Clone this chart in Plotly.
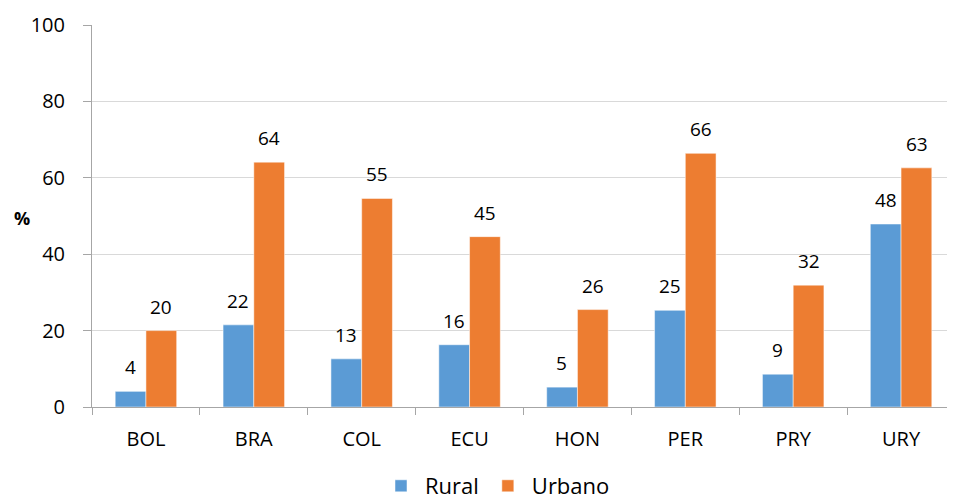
import plotly.graph_objects as go

categories = ["BOL", "BRA", "COL", "ECU", "HON", "PER", "PRY", "URY"]
rural = [4.1, 21.5, 12.6, 16.3, 5.2, 25.3, 8.6, 47.9]
urbano = [20.0, 64.1, 54.6, 44.6, 25.5, 66.4, 31.9, 62.6]
y_ticks = [0, 20, 40, 60, 80, 100]

BLUE = "#5B9BD5"
ORANGE = "#ED7D31"
FONT = "Open Sans"

# page body has an 8px default margin; figure is sized to fill the rest of the window
W, H = 947, 492
L, T, B = 84, 17, 93
PW, PH = W - L, H - T - B

fig = go.Figure()
fig.add_trace(go.Bar(name="Rural", x=categories, y=rural, marker=dict(color=BLUE, line=dict(color="white", width=0.5))))
fig.add_trace(go.Bar(name="Urbano", x=categories, y=urbano, marker=dict(color=ORANGE, line=dict(color="white", width=0.5))))

annotations = []
for c, v in zip(categories, rural):
    annotations.append(dict(x=c, y=v, xref="x", yref="y", text=f"{v:.0f}", showarrow=False,
                            xshift=-15.5, yshift=24, yanchor="middle",
                            font=dict(family=FONT, size=19, color="#000")))
for c, v in zip(categories, urbano):
    annotations.append(dict(x=c, y=v, xref="x", yref="y", text=f"{v:.0f}", showarrow=False,
                            xshift=15.5, yshift=24, yanchor="middle",
                            font=dict(family=FONT, size=19, color="#000")))
annotations.append(dict(x=(22 - 8 - L) / PW, y=(407 - 218) / PH, xref="paper", yref="paper",
                        text="<b>%</b>", showarrow=False, xanchor="center", yanchor="middle",
                        font=dict(family=FONT, size=18, color="#000")))

fig.update_layout(
    width=W, height=H,
    margin=dict(l=L, r=0, t=T, b=B, autoexpand=False),
    paper_bgcolor="white", plot_bgcolor="white",
    barmode="group", bargap=0.43, bargroupgap=0,
    font=dict(family=FONT, size=20, color="#000"),
    annotations=annotations,
    legend=dict(orientation="h", x=(496 - 8) / W, xanchor="center", xref="container",
                y=14 / H, yanchor="middle", yref="container",
                font=dict(family=FONT, size=22, color="#000"), itemwidth=38),
    showlegend=True,
)
fig.update_xaxes(
    type="category", showline=True, linecolor="#a6a6a6", linewidth=1,
    ticks="outside", tickson="boundaries", ticklen=7, tickcolor="#a6a6a6",
    ticklabelstandoff=14, showgrid=False, automargin=False,
    tickfont=dict(family=FONT, size=20, color="#000"),
)
fig.update_yaxes(
    range=[0, 100], tickvals=y_ticks, showline=True, linecolor="#a6a6a6", linewidth=1,
    ticks="outside", ticklen=8, tickcolor="#a6a6a6", ticklabelstandoff=14,
    showgrid=True, gridcolor="#d9d9d9", gridwidth=1, zeroline=False, automargin=False,
    tickfont=dict(family=FONT, size=20, color="#000"),
)

fig.write_html("out.html")
